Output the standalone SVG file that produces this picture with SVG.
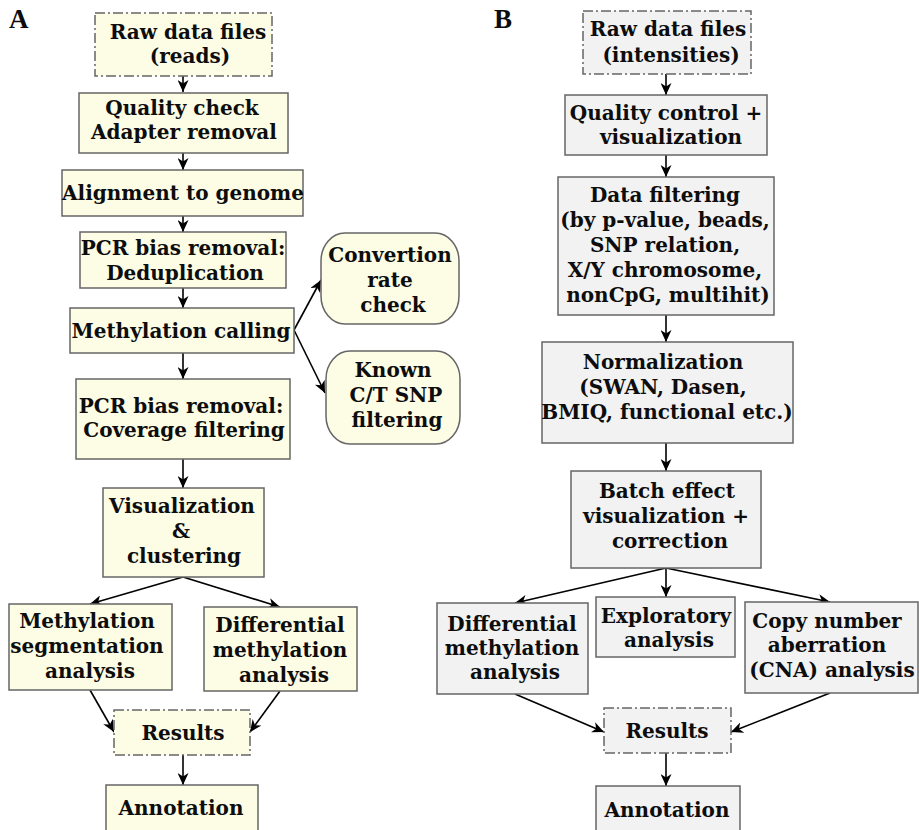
<svg xmlns="http://www.w3.org/2000/svg" width="919" height="830" viewBox="0 0 919 830">
<style>
.bg{fill:#ffffff}
.ya{fill:#fdfde6;stroke:#666;stroke-width:1.5}
.gb{fill:#f2f2f2;stroke:#666;stroke-width:1.5}
.dd{stroke-dasharray:10,3,2,3}
text{font-family:"DejaVu Serif","Liberation Serif",serif;font-weight:bold;font-size:20px;fill:#0d0d0d;text-anchor:middle}
.lbl{font-family:"Liberation Serif","Times New Roman",serif;font-size:27px;text-anchor:start}
.c{fill:none;stroke:#000;stroke-width:1.6;marker-end:url(#ah)}
</style>
<defs>
<marker id="ah" markerUnits="userSpaceOnUse" markerWidth="13" markerHeight="11" refX="12" refY="5.5" orient="auto">
<path d="M0,0 L12,5.5 L0,11 L3.5,5.5 z" fill="#000"/>
</marker>
</defs>
<rect class="bg" x="0" y="0" width="919" height="830"/>
<text class="lbl" x="9" y="28">A</text>
<text class="lbl" x="494" y="28">B</text>

<g id="connectors">
<path class="c" d="M183,76 L183,92"/>
<path class="c" d="M183,153 L183,170"/>
<path class="c" d="M183,216 L183,232"/>
<path class="c" d="M183,288 L183,308"/>
<path class="c" d="M294,330 L321,280"/>
<path class="c" d="M294,330 L325,393"/>
<path class="c" d="M183,353 L183,379"/>
<path class="c" d="M183,459 L183,488"/>
<path class="c" d="M183,577 L90,604"/>
<path class="c" d="M183,577 L280,607"/>
<path class="c" d="M90,690 L114,732"/>
<path class="c" d="M280,691 L250,732"/>
<path class="c" d="M183,755 L183,785"/>
<path class="c" d="M666,74 L666,95"/>
<path class="c" d="M666,155 L666,177"/>
<path class="c" d="M666,315 L666,342"/>
<path class="c" d="M666,443 L666,471"/>
<path class="c" d="M666,568 L515,603"/>
<path class="c" d="M666,568 L666,597"/>
<path class="c" d="M666,568 L830,602"/>
<path class="c" d="M515,694 L604,732"/>
<path class="c" d="M830,693 L731,732"/>
<path class="c" d="M666,753 L666,786"/>
</g>

<g id="a_raw"><rect class="ya dd" x="95" y="13" width="177" height="63"/>
<text x="188" y="39">Raw data files</text><text x="190" y="63">(reads)</text></g>
<g id="a_qc"><rect class="ya" x="79" y="93" width="209" height="60"/>
<text x="182" y="115">Quality check</text><text x="184" y="139">Adapter removal</text></g>
<g id="a_align"><rect class="ya" x="62" y="170" width="241" height="46"/>
<text x="183" y="200">Alignment to genome</text></g>
<g id="a_dedup"><rect class="ya" x="80" y="232" width="206" height="56"/>
<text x="183" y="255">PCR bias removal:</text><text x="185" y="280">Deduplication</text></g>
<g id="a_call"><rect class="ya" x="70" y="308" width="224" height="45"/>
<text x="181" y="338">Methylation calling</text></g>
<g id="a_conv"><rect class="ya" x="321" y="233" width="138" height="91" rx="24" ry="28"/>
<text x="390" y="262">Convertion</text><text x="390" y="287">rate</text><text x="393" y="312">check</text></g>
<g id="a_snp"><rect class="ya" x="326" y="351" width="134" height="93" rx="24" ry="28"/>
<text x="393" y="377">Known</text><text x="396" y="402">C/T SNP</text><text x="397" y="427">filtering</text></g>
<g id="a_cov"><rect class="ya" x="76" y="379" width="214" height="80"/>
<text x="181" y="413">PCR bias removal:</text><text x="184" y="437">Coverage filtering</text></g>
<g id="a_vis"><rect class="ya" x="103" y="488" width="161" height="89"/>
<text x="182" y="513">Visualization</text><text x="181" y="538">&amp;</text><text x="184" y="563">clustering</text></g>
<g id="a_seg"><rect class="ya" x="9" y="604" width="163" height="86"/>
<text x="87" y="628">Methylation</text><text x="87" y="653">segmentation</text><text x="90" y="678">analysis</text></g>
<g id="a_diff"><rect class="ya" x="204" y="607" width="153" height="84"/>
<text x="280" y="632">Differential</text><text x="280" y="657">methylation</text><text x="284" y="682">analysis</text></g>
<g id="a_res"><rect class="ya dd" x="114" y="710" width="136" height="45"/>
<text x="183" y="740">Results</text></g>
<g id="a_ann"><rect class="ya" x="106" y="785" width="152" height="60"/>
<text x="181" y="815">Annotation</text></g>

<g id="b_raw"><rect class="gb dd" x="583" y="11" width="168" height="63"/>
<text x="668" y="36">Raw data files</text><text x="671" y="62">(intensities)</text></g>
<g id="b_qc"><rect class="gb" x="565" y="95" width="202" height="60"/>
<text x="666" y="120">Quality control +</text><text x="671" y="144">visualization</text></g>
<g id="b_filt"><rect class="gb" x="558" y="177" width="216" height="138"/>
<text x="665" y="202">Data filtering</text><text x="665" y="227">(by p-value, beads,</text><text x="665" y="252">SNP relation,</text><text x="665" y="277">X/Y chromosome,</text><text x="668" y="302">nonCpG, multihit)</text></g>
<g id="b_norm"><rect class="gb" x="542" y="342" width="251" height="101"/>
<text x="663" y="369">Normalization</text><text x="663" y="394">(SWAN, Dasen,</text><text x="667" y="419">BMIQ, functional etc.)</text></g>
<g id="b_batch"><rect class="gb" x="571" y="471" width="190" height="97"/>
<text x="667" y="498">Batch effect</text><text x="666" y="523">visualization +</text><text x="670" y="548">correction</text></g>
<g id="b_diff"><rect class="gb" x="437" y="603" width="151" height="91"/>
<text x="512" y="631">Differential</text><text x="512" y="655">methylation</text><text x="515" y="679">analysis</text></g>
<g id="b_expl"><rect class="gb" x="596" y="597" width="139" height="60"/>
<text x="666" y="623">Exploratory</text><text x="669" y="647">analysis</text></g>
<g id="b_cna"><rect class="gb" x="745" y="602" width="173" height="91"/>
<text x="827" y="628">Copy number</text><text x="827" y="652">aberration</text><text x="832" y="677">(CNA) analysis</text></g>
<g id="b_res"><rect class="gb dd" x="604" y="708" width="127" height="45"/>
<text x="667" y="738">Results</text></g>
<g id="b_ann"><rect class="gb" x="596" y="786" width="144" height="60"/>
<text x="667" y="817">Annotation</text></g>
</svg>
